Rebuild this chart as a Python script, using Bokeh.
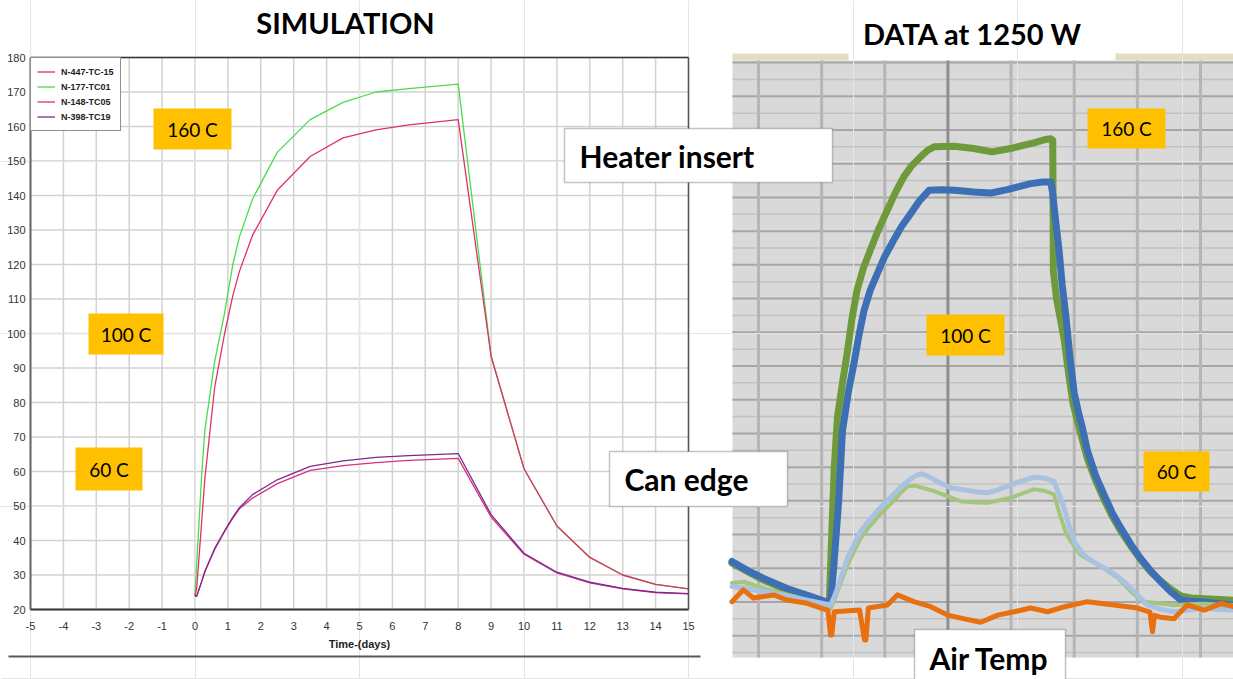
from bokeh.plotting import figure
from bokeh.models import Range1d, Label, BoxAnnotation, Legend, LegendItem
from bokeh.embed import file_html
from bokeh.resources import INLINE
from bokeh.core.properties import value

W, H = 1233, 679

# ---------------- Simulation: thermocouple temperature (deg C) vs time (days)
sim_days = [0, 0.05, 0.2, 0.3, 0.6, 0.9, 1.15, 1.35, 1.75, 2.5, 3.5, 4.5, 5.5, 6.5,
            8, 9, 10, 11, 12, 13, 14, 15]
n447_tc15 = [24, 26, 45, 58, 84.5, 100, 111, 118, 128.5, 141.5, 151.3, 156.7, 159, 160.5,
             162, 93.4, 60.8, 44.2, 35.1, 30.0, 27.3, 26.0]
n177_tc01 = [24, 33, 58.5, 72, 92, 106, 120, 128, 139, 152.5, 162, 167, 170, 171,
             172.3, 93.4, 60.8, 44.2, 35.1, 30.0, 27.3, 26.0]
n148_tc05 = [24, 23.8, 28, 31, 37.5, 42.6, 46.5, 49.2, 52.3, 56.5, 60.3, 61.7, 62.6, 63.2,
             63.8, 46.8, 36.0, 30.6, 27.7, 26.0, 24.9, 24.5]
n398_tc19 = [24, 23.8, 28, 31, 37.7, 42.8, 46.8, 49.5, 53.3, 57.6, 61.5, 63.1, 64.1, 64.6,
             65.2, 47.5, 36.3, 30.8, 27.9, 26.1, 25.0, 24.6]
sim_x_ticks = list(range(-5, 16))
sim_y_ticks = list(range(20, 181, 10))

# ---------------- Measured data at 1250 W (chart columns vs deg C)
heater_blue_x = [0.58, 0.83, 1.08, 1.45, 1.80, 2.14, 2.19, 2.27, 2.33, 2.42, 2.51, 2.59, 2.67,
                 2.77, 2.88, 3.00, 3.14, 3.27, 3.41, 3.55, 3.70, 3.90, 4.10, 4.41, 4.68, 4.94,
                 5.31, 5.50, 5.63, 5.66, 5.70, 5.76, 5.81, 5.87, 5.93, 6.00, 6.07, 6.13, 6.21,
                 6.34, 6.47, 6.60, 6.74, 6.90, 7.05, 7.21, 7.37, 7.53, 7.69, 7.85, 8.00, 8.52]
heater_blue_t = [32, 29.3, 27, 24, 21.8, 19.6, 30, 50, 70.7, 82, 90.6, 99, 106.4,
                 112.5, 117.3, 122.5, 127.3, 131.5, 135.2, 139, 142.1, 142.3, 142.1, 141.6, 141.3, 142.3,
                 144.1, 144.6, 144.6, 141, 134, 124.3, 114, 104.4, 93, 82, 76, 71.7, 64.8,
                 57.5, 51.9, 46.5, 41.9, 37, 33, 29.3, 26, 23, 20.6, 20.2, 20.1, 19.1]
heater_green_x = [0.58, 0.83, 1.08, 1.45, 1.80, 2.12, 2.16, 2.20, 2.25, 2.33, 2.41, 2.48, 2.56,
                  2.66, 2.77, 2.90, 3.04, 3.17, 3.30, 3.43, 3.57, 3.68, 3.78, 4.10, 4.41, 4.70,
                  4.99, 5.36, 5.55, 5.63, 5.66, 5.67, 5.72, 5.78, 5.84, 5.91, 5.98, 6.06, 6.13,
                  6.21, 6.34, 6.47, 6.60, 6.74, 6.90, 7.05, 7.21, 7.37, 7.53, 7.69, 7.85, 8.00,
                  8.52]
heater_green_t = [31.5, 29, 26.5, 23.5, 21.5, 19.3, 40, 60, 74.7, 85, 94.5, 104, 112.4,
                  119, 124.3, 130.5, 136.2, 141.5, 146.1, 149.5, 152.1, 154, 155, 155.2, 154.5, 153.5,
                  154.5, 156.2, 157.2, 157.4, 157, 118, 110, 104, 98, 88, 79, 73, 68,
                  62.5, 56, 50.5, 45.5, 41, 36.5, 32.6, 29, 26.2, 23.8, 21.8, 21.2, 21.0,
                  20.5]
edge_blue_x = [0.58, 1.08, 1.60, 2.14, 2.20, 2.25, 2.33, 2.41, 2.52, 2.62, 2.75, 2.88, 3.01,
               3.14, 3.25, 3.36, 3.47, 3.57, 3.67, 3.78, 3.91, 4.04, 4.17, 4.31, 4.46, 4.62,
               4.78, 4.94, 5.15, 5.36, 5.52, 5.68, 5.76, 5.84, 5.92, 6.00, 6.10, 6.21, 6.40,
               6.58, 6.74, 6.90, 7.03, 7.16, 7.37, 7.58, 7.82, 8.06, 8.30, 8.52]
edge_blue_t = [24.6, 23.1, 21.2, 19.1, 21.5, 24, 28.5, 33, 37.3, 41, 44.2, 46.9, 49.6,
               51.9, 54, 55.8, 57.3, 58, 57.5, 56.3, 55, 53.9, 53.5, 53.1, 52.6, 52.4,
               53.2, 54.3, 55.8, 57, 56.8, 55.8, 52, 47.9, 42.5, 38, 35.2, 33, 30.8,
               29, 26.8, 24.1, 21.5, 19.1, 17.8, 17.1, 17.6, 18.2, 17.8, 17.6]
edge_green_x = [0.58, 0.77, 1.08, 1.60, 2.14, 2.20, 2.25, 2.33, 2.41, 2.52, 2.62, 2.75, 2.88,
                3.01, 3.14, 3.25, 3.36, 3.47, 3.57, 3.78, 4.00, 4.20, 4.41, 4.62, 4.80, 4.99,
                5.18, 5.36, 5.52, 5.68, 5.78, 5.88, 6.00, 6.10, 6.28, 6.47, 6.70, 6.90, 7.00,
                7.10, 7.34, 7.58, 7.82, 8.06, 8.30, 8.52]
edge_green_t = [25.6, 26, 24, 21.5, 18, 20.5, 23, 27, 31, 35.2, 39, 42.2, 45,
                47.6, 50, 52.3, 54.3, 54.5, 54, 52.9, 51.3, 49.9, 49.6, 49.4, 50.1, 50.9,
                52.2, 53.4, 53, 51.9, 45.5, 40, 36.6, 34, 32, 30, 27, 23.1, 21.5,
                20.1, 19.6, 19, 19.3, 19.5, 19.2, 19]
air_x = [0.58, 0.76, 0.92, 1.24, 1.45, 1.77, 2.10, 2.14, 2.16, 2.20, 2.60, 2.68, 2.70, 2.74,
         3.04, 3.20, 3.46, 3.73, 4.00, 4.26, 4.52, 4.79, 5.05, 5.31, 5.58, 5.85, 6.21, 6.63,
         7.00, 7.20, 7.24, 7.27, 7.37, 7.58, 7.79, 8.06, 8.33, 8.52]
air_t = [20.1, 23.6, 21.2, 22.1, 20.6, 19.6, 17.5, 10.2, 10.2, 17.1, 17.6, 8.7, 8.7, 18.2,
         19.1, 22.1, 20.1, 18.6, 16.1, 15, 14, 16.1, 17.1, 18.2, 17.1, 18.6, 20.1, 19.1,
         18.2, 17, 11.2, 16, 15.5, 15, 19.1, 17.6, 19.6, 18.6]
meas_cols = list(range(1, 9))
meas_major = list(range(10, 181, 10))
meas_minor = list(range(5, 180, 10))

# ---------------- page layout (pixels, measured from the top-left corner)
SIM_L, SIM_R, SIM_T, SIM_B = 30, 688, 57, 609
COL1_PX, COL8_PX = 758, 1200
T160_PY, T10_PY = 129.5, 635.2
PANEL_L, PANEL_T, PANEL_B = 732, 60, 657

x_min, x_max = sim_x_ticks[0], sim_x_ticks[-1]
y_min, y_max = sim_y_ticks[0], sim_y_ticks[-1]
kx = (x_max - x_min) / (SIM_R - SIM_L)
ky = (y_max - y_min) / (SIM_B - SIM_T)

p = figure(width=W, height=H, output_backend="svg", toolbar_location=None,
           x_axis_location=None, y_axis_location=None, min_border=0,
           x_range=Range1d(x_min - SIM_L * kx, x_max + (W - SIM_R) * kx),
           y_range=Range1d(y_min - (H - SIM_B) * ky, y_max + SIM_T * ky))
p.outline_line_color = None
p.background_fill_color = "white"
p.border_fill_color = "white"

kX = (meas_cols[-1] - meas_cols[0]) / (COL8_PX - COL1_PX)
kT = (160 - 10) / (T10_PY - T160_PY)
p.extra_x_ranges = {"rx": Range1d(1 - COL1_PX * kX, 1 + (W - COL1_PX) * kX)}
p.extra_y_ranges = {"ry": Range1d(160 - (H - T160_PY) * kT, 160 + T160_PY * kT)}
X_left = 1 + (PANEL_L - COL1_PX) * kX
X_right = 1 + (W - COL1_PX) * kX
T_bot = 160 - (PANEL_B - T160_PY) * kT
T_top = 160 + (T160_PY - PANEL_T) * kT


def box(l, t, r, b, fill, line=None, lw=1.5, level="annotation"):
    p.add_layout(BoxAnnotation(left=l, right=r, top=H - t, bottom=H - b,
                               left_units="screen", right_units="screen",
                               top_units="screen", bottom_units="screen",
                               fill_color=fill, fill_alpha=1.0, line_color=line,
                               line_width=lw, level=level))


def label(text, px, py, size, bold=False, align="center", font="Lato", color="black"):
    p.add_layout(Label(x=px, y=H - py, x_units="screen", y_units="screen", text=text,
                       text_align=align, text_baseline="middle", text_font=font,
                       text_font_size=f"{size}px", text_color=color,
                       text_font_style="bold" if bold else "normal", level="overlay"))


# ---------------- measured-data panel background and grid
box(PANEL_L, PANEL_T, W, PANEL_B, "#d9d9d9", level="image")
box(PANEL_L, 53, 848, PANEL_T, "#e4dcc3", level="image")
box(1115, 53, W, PANEL_T, "#e4dcc3", level="image")

minor_in = [t for t in meas_minor if T_bot < t < T_top]
major_in = [t for t in meas_major if T_bot < t < T_top]
p.segment(x0=X_left, x1=X_right, y0=minor_in, y1=minor_in, line_color="#c2c2c2",
          line_width=1.5, x_range_name="rx", y_range_name="ry", level="underlay")
p.segment(x0=X_left, x1=X_right, y0=major_in, y1=major_in, line_color="#a6a6a6",
          line_width=2, x_range_name="rx", y_range_name="ry", level="underlay")
p.segment(x0=meas_cols, x1=meas_cols, y0=T_bot, y1=T_top,
          line_color=["#b5b5b5", "#b5b5b5", "#b5b5b5", "#8e8e8e", "#b5b5b5", "#b5b5b5",
                      "#b5b5b5", "#b5b5b5"],
          line_width=3, x_range_name="rx", y_range_name="ry", level="underlay")

# measured curves
common = dict(x_range_name="rx", y_range_name="ry", line_join="round", line_cap="round")
p.line(heater_green_x, heater_green_t, line_color="#6f9a3b", line_width=7, **common)
p.line(heater_blue_x, heater_blue_t, line_color="#3d6fb5", line_width=7, **common)
p.line(edge_green_x, edge_green_t, line_color="#a3c57c", line_width=4, **common)
p.line(edge_blue_x, edge_blue_t, line_color="#aac2e2", line_width=5, **common)
p.line(air_x, air_t, line_color="#e8700e", line_width=5, **common)

# ---------------- simulation chart grid, frame and ticks
p.segment(x0=sim_x_ticks, x1=sim_x_ticks, y0=y_min, y1=y_max, line_color="#d2d2d2",
          line_width=1.5, level="underlay")
p.segment(x0=x_min, x1=x_max, y0=sim_y_ticks, y1=sim_y_ticks, line_color="#d2d2d2",
          line_width=1.5, level="underlay")

g177 = p.line(sim_days, n177_tc01, line_color="#49dc49", line_width=1.3)
r447 = p.line(sim_days, n447_tc15, line_color="#e0316a", line_width=1.3)
r148 = p.line(sim_days, n148_tc05, line_color="#d62f7e", line_width=1.3)
r398 = p.line(sim_days, n398_tc19, line_color="#7c2a8c", line_width=1.3)

p.line([x_min, x_max], [y_max, y_max], line_color="#333333", line_width=1.5)
p.line([x_max, x_max], [y_min, y_max], line_color="#555555", line_width=1.5)
p.line([x_min, x_min], [y_min, y_max], line_color="#666666", line_width=2)
p.line([x_min, x_max], [y_min, y_min], line_color="#333333", line_width=2)

p.text(x=sim_x_ticks, y=y_min, text=[str(t) for t in sim_x_ticks], y_offset=16,
       text_align="center", text_baseline="middle", text_font=value("Liberation Sans"),
       text_font_size="11px", text_color="#333333")
p.text(x=x_min, y=sim_y_ticks, text=[str(t) for t in sim_y_ticks], x_offset=-5,
       text_align="right", text_baseline="middle", text_font=value("Liberation Sans"),
       text_font_size="11px", text_color="#333333")
p.text(x=[(x_min + x_max) / 2], y=[y_min], text=["Time-(days)"], y_offset=34,
       text_align="center", text_baseline="middle", text_font=value("Liberation Sans"),
       text_font_size="11px", text_font_style="bold", text_color="#222222")

legend = Legend(items=[LegendItem(label="N-447-TC-15", renderers=[r447]),
                       LegendItem(label="N-177-TC01", renderers=[g177]),
                       LegendItem(label="N-148-TC05", renderers=[r148]),
                       LegendItem(label="N-398-TC19", renderers=[r398])],
                location=(SIM_L, H - 131), border_line_color="#222222", border_line_width=1,
                background_fill_alpha=1.0, padding=6, spacing=0, glyph_width=18,
                glyph_height=15, label_height=15, label_standoff=6,
                label_text_font="Liberation Sans", label_text_font_style="bold",
                label_text_font_size="9px", label_text_color="#222222")
p.add_layout(legend)

# separator under the simulation chart
box(8, 655, 700, 657, "#5a5a5a")

# ---------------- titles and annotations
label("SIMULATION", 345, 22, 29, bold=True)
label("DATA at 1250 W", 972, 33, 29, bold=True)

for (l, t, r, b, txt) in [(153, 108, 231, 149, "160 C"), (88, 313, 163, 354, "100 C"),
                          (75, 447, 142, 490, "60 C"), (1087, 108, 1165, 148, "160 C"),
                          (926, 314, 1004, 355, "100 C"), (1143, 451, 1209, 491, "60 C")]:
    box(l, t, r, b, "#ffc000")
    label(txt, (l + r) / 2, (t + b) / 2, 19)

for (l, t, r, b, txt) in [(564, 128, 832, 182, "Heater insert"),
                          (609, 451, 787, 506, "Can edge"),
                          (914, 629, 1065, 700, "Air Temp")]:
    box(l, t, r, b, "white", line="#2f3e4e", lw=1.5)
    label(txt, l + 15, (t + b) / 2 if b < H else 657, 30, bold=True, align="left")

open("out.html", "w").write(file_html(p, INLINE))
